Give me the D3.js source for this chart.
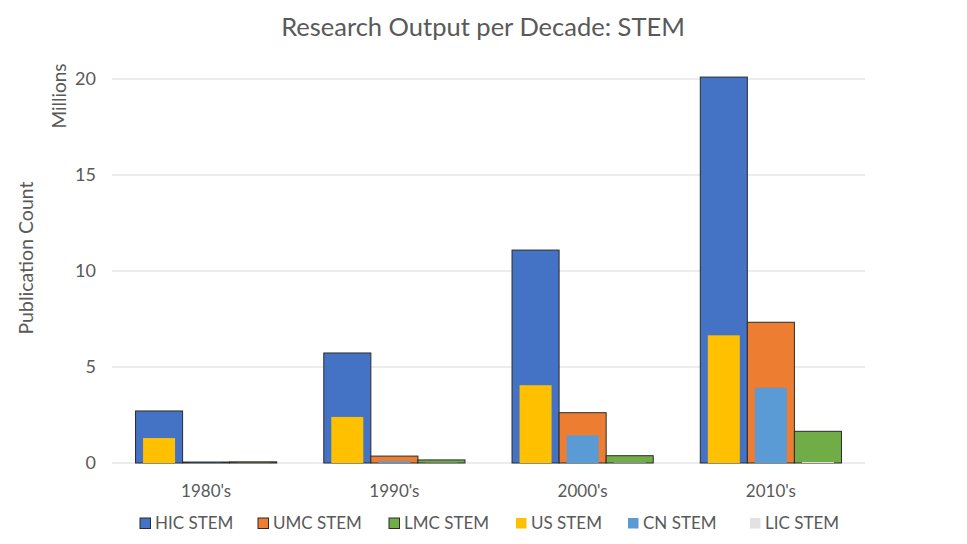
<!DOCTYPE html>
<html><head><meta charset="utf-8">
<script src="https://cdn.jsdelivr.net/npm/d3@7"></script>
<style>body{margin:0;background:#fff}svg{display:block}text{font-family:Lato,"Open Sans",sans-serif;fill:#595959}</style>
</head><body><svg id="c" width="967" height="544"></svg>
<script>
const categories = ["1980's","1990's","2000's","2010's"];
const primarySeries = ["HIC STEM","UMC STEM","LMC STEM"];
const secondarySeries = ["US STEM","CN STEM","LIC STEM"];
const hic = [2.71, 5.73, 11.09, 20.1];
const umc = [0.05, 0.36, 2.62, 7.33];
const lmc = [0.06, 0.16, 0.38, 1.65];
const us  = [1.30, 2.40, 4.05, 6.65];
const cn  = [0.01, 0.09, 1.44, 3.92];
const lic = [0.005, 0.01, 0.02, 0.05];
const yTicks = [0,5,10,15,20];

const primaryValues = [hic, umc, lmc];
const secondaryValues = [us, cn, lic];
const colors = {"HIC STEM":"#4472C4","UMC STEM":"#ED7D31","LMC STEM":"#70AD47","US STEM":"#FFC000","CN STEM":"#5B9BD5","LIC STEM":"#E2E2E2"};

const svg = d3.select("#c");
const x0 = d3.scaleBand().domain(categories).range([112,865]).paddingInner(0.25).paddingOuter(0.125);
const x1 = d3.scaleBand().domain([0,1,2]).range([0,x0.bandwidth()]);
const y = d3.scaleLinear().domain([0,21]).range([463,59.8]);

// gridlines
svg.append("g").selectAll("line").data(yTicks).join("line")
  .attr("x1",112).attr("x2",865).attr("y1",d=>y(d)).attr("y2",d=>y(d))
  .attr("stroke","#d9d9d9").attr("stroke-width",1);

// y tick labels
svg.append("g").selectAll("text").data(yTicks).join("text")
  .attr("x",96).attr("y",d=>y(d)).attr("dy","0.35em").attr("text-anchor","end")
  .attr("font-size",18).text(d=>d);

// primary bars
primaryValues.forEach((vals,si)=>{
  svg.append("g").selectAll("rect").data(vals).join("rect")
    .attr("x",(d,i)=>x0(categories[i])+x1(si))
    .attr("width",x1.bandwidth())
    .attr("y",d=>y(d)).attr("height",d=>y(0)-y(d))
    .attr("fill",colors[primarySeries[si]])
    .attr("stroke","#2b2b2b").attr("stroke-width",1);
});
// secondary bars
const sw = x1.bandwidth()*0.68;
secondaryValues.forEach((vals,si)=>{
  svg.append("g").selectAll("rect").data(vals).join("rect")
    .attr("x",(d,i)=>x0(categories[i])+x1(si)+(x1.bandwidth()-sw)/2)
    .attr("width",sw)
    .attr("y",d=>y(d)).attr("height",d=>y(0)-y(d))
    .attr("fill",colors[secondarySeries[si]]);
});

// x labels
svg.append("g").selectAll("text").data(categories).join("text")
  .attr("x",d=>x0(d)+x0.bandwidth()/2).attr("y",497).attr("text-anchor","middle")
  .attr("font-size",17).text(d=>d);

// title
svg.append("text").attr("x",483).attr("y",36).attr("text-anchor","middle")
  .attr("font-size",25.5).text("Research Output per Decade: STEM");

// axis titles
svg.append("text").attr("transform","translate(66,96) rotate(-90)").attr("text-anchor","middle")
  .attr("font-size",19).text("Millions");
svg.append("text").attr("transform","translate(33,258) rotate(-90)").attr("text-anchor","middle")
  .attr("font-size",19.5).text("Publication Count");

// legend
const legendItems = primarySeries.concat(secondarySeries);
const legendX = [140,258,389,516,628,750];
const lg = svg.append("g").selectAll("g").data(legendItems).join("g")
  .attr("transform",(d,i)=>`translate(${legendX[i]},518)`);
lg.append("rect").attr("width",10.5).attr("height",10.5).attr("fill",d=>colors[d])
  .attr("stroke",(d,i)=>i<3?"#2b2b2b":"none").attr("stroke-width",1);
lg.append("text").attr("x",15).attr("y",5).attr("dy","0.36em").attr("font-size",17).text(d=>d);
</script></body></html>
